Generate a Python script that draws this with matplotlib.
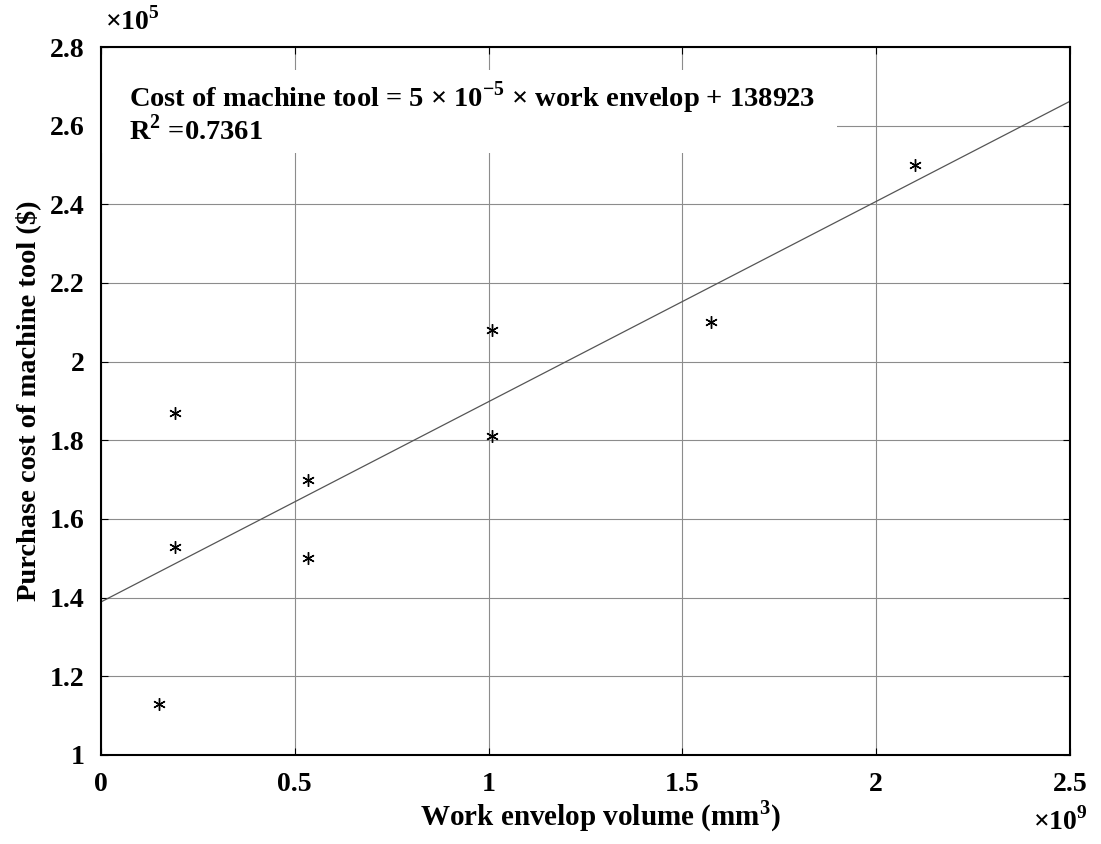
import numpy as np
from matplotlib import pyplot as plt

# data (x in 1e9 mm^3, y in 1e5 $)
volume = [0.15, 0.19, 0.19, 0.535, 0.535, 1.01, 1.01, 1.575, 2.10]
cost = [1.13, 1.87, 1.53, 1.70, 1.50, 2.08, 1.81, 2.10, 2.50]
fit_x = [0.0, 2.5]
fit_y = [1.389, 2.662]

xticks = [0, 0.5, 1, 1.5, 2, 2.5]
xtick_labels = ['0', '0.5', '1', '1.5', '2', '2.5']
yticks = [1, 1.2, 1.4, 1.6, 1.8, 2, 2.2, 2.4, 2.6, 2.8]
ytick_labels = ['1', '1.2', '1.4', '1.6', '1.8', '2', '2.2', '2.4', '2.6', '2.8']

plt.rcParams['font.family'] = ['Liberation Serif', 'DejaVu Serif']
plt.rcParams['font.weight'] = 'bold'
plt.rcParams['mathtext.fontset'] = 'custom'
plt.rcParams['mathtext.rm'] = 'Liberation Serif:bold'
plt.rcParams['mathtext.bf'] = 'Liberation Serif:bold'

fig = plt.figure(figsize=(11.01, 8.44), dpi=100)
ax = fig.add_axes([0.0917, 0.1055, 0.8801, 0.8388])

ax.plot(fit_x, fit_y, color='#555555', lw=0.9, zorder=2)
ax.plot(volume, cost, ls='none', marker=(6, 2, 0), ms=9, mew=1.0, color='black', zorder=3)

ax.set_xlim(0, 2.5)
ax.set_ylim(1, 2.8)
ax.set_xticks(xticks)
ax.set_xticklabels(xtick_labels)
ax.set_yticks(yticks)
ax.set_yticklabels(ytick_labels)
ax.grid(True, color='#8c8c8c', lw=0.8)
ax.set_axisbelow(True)
ax.tick_params(direction='in', top=True, right=True, length=5, labelsize=20)
ax.tick_params(axis='y', pad=12)
ax.tick_params(axis='x', pad=12)
for s in ax.spines.values():
    s.set_linewidth(1.5)

ax.set_xlabel('Work envelop volume (mm$^3$)', fontsize=21, fontweight='bold', labelpad=2)
ax.xaxis.set_label_coords(0.515, -0.062)
ax.set_ylabel('Purchase cost of machine tool ($)', fontsize=20.5, fontweight='bold', labelpad=6)

fig.text(0.095, 0.975, r'$\times$10$^5$', fontsize=20, fontweight='bold', ha='left', va='center')
fig.text(0.963, 0.027, r'$\times$10$^9$', fontsize=20, fontweight='bold', ha='center', va='center')

# white box behind the equation text
ax.fill_between([0, 1.899], 2.53, 2.742, color='white', zorder=1.5, lw=0)
ax.text(0.072, 2.672, r'Cost of machine tool = 5 $\times$ 10$^{-5}$ $\times$ work envelop + 138923',
        fontsize=20.5, fontweight='bold', va='center', zorder=4)
ax.text(0.072, 2.588, r'R$^2$ =0.7361', fontsize=20.5, fontweight='bold', va='center', zorder=4)

fig.savefig('out.png', dpi=100)
